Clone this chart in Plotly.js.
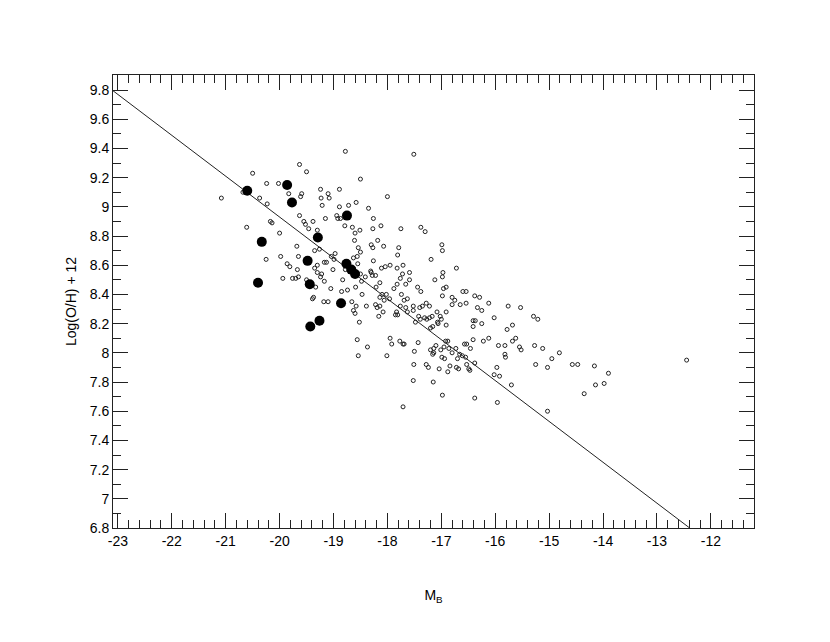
<!DOCTYPE html>
<html>
<head>
<meta charset="utf-8">
<script src="https://cdn.plot.ly/plotly-3.0.1.min.js"></script>
<style>html,body{margin:0;padding:0;background:#fff;}#chart{width:830px;height:642px;}</style>
</head>
<body>
<div id="chart"></div>
<script>
// Open circles: absolute blue magnitude M_B and oxygen abundance
const openMB = [
-18.78,-19.63,-19.50,-20.50,-18.50,-20.24,-20.02,-20.68,-19.83,-19.59,-19.61,-19.24,-19.10,-18.89,-21.08,-20.37,-19.23,-19.08,-20.23,-19.21,
-18.58,-18.89,-18.72,-18.35,-19.63,-19.15,-18.94,-18.92,-18.87,-19.55,-19.52,-19.38,-20.17,-20.14,-19.46,-18.79,-18.65,-20.61,-19.30,-18.51,
-18.60,-20.00,-18.61,-19.68,-18.54,-19.35,-19.26,-18.50,-18.97,-20.25,-19.98,-19.65,-19.04,-18.99,-18.63,-18.56,-19.30,-19.17,-19.13,-19.86,
-19.81,-19.35,-18.55,-19.67,-19.01,-18.78,-19.30,-19.22,-18.50,-18.41,-19.94,-19.76,-19.70,-19.65,-19.50,-19.24,-19.17,-18.83,-18.48,
-19.33,-19.05,-18.85,-18.74,-18.59,-18.47,-19.37,-19.39,-19.18,-19.10,-18.66,-18.58,-18.63,-18.60,-18.39,-18.52,-18.56,-18.37,-18.54,
-17.51,-18.00,-18.26,-18.27,-18.12,-17.75,-17.38,-17.30,-18.18,-18.30,-18.27,-18.07,-17.79,-16.99,-16.98,-17.81,-17.19,-18.26,-18.11,-18.04,
-17.95,-17.82,-17.71,-16.72,-18.31,-18.30,-18.22,-18.28,-17.72,-17.59,-16.97,-17.76,-17.59,-17.12,-16.98,-18.14,-17.82,-17.66,
-18.21,-18.10,-18.02,-17.88,-17.44,-17.38,-16.96,-16.91,-16.60,-16.54,-17.74,-16.98,-16.80,-16.75,-16.38,-16.29,-18.14,-18.06,-17.96,-17.69,
-17.63,-18.22,-18.14,-18.19,-17.76,-17.66,-17.52,-17.52,-17.40,-17.35,-17.28,-17.22,-16.80,-16.65,-16.54,-16.12,-15.76,-15.53,-16.33,-16.25,
-17.83,-17.85,-17.81,-18.08,-18.16,-17.63,-17.42,-17.39,-17.31,-17.27,-17.22,-17.17,-17.08,-17.02,-17.00,-16.91,-17.48,-17.07,-17.06,-16.91,
-17.20,-17.16,-16.41,-16.37,-16.41,-16.25,-16.02,-15.78,-15.68,-15.29,-15.21,-17.95,-17.92,-17.77,-17.71,-17.69,-17.43,-18.01,-17.50,-17.20,
-17.14,-17.16,-17.14,-17.10,-17.01,-16.92,-16.88,-16.95,-16.86,-16.80,-16.73,-16.99,-16.94,-16.57,-16.53,-16.46,-16.41,-16.22,-16.12,-15.94,
-15.82,-15.68,-15.62,-15.55,-15.52,-15.27,-16.66,-16.61,-16.55,-16.70,-16.38,-16.53,-16.49,-16.47,-16.72,-16.68,-16.84,-17.04,-16.88,-17.28,
-17.24,-17.51,-15.97,-16.02,-15.92,-15.82,-15.81,-15.25,-17.52,-17.15,-15.70,-16.98,-16.38,-15.96,-17.71,
-15.12,-14.95,-14.81,-15.03,-14.57,-14.47,-14.16,-13.90,-14.14,-13.98,-14.35,-15.03,-12.45
];
const openOH = [
9.38,9.29,9.24,9.23,9.19,9.16,9.16,9.10,9.09,9.09,9.07,9.12,9.09,9.12,9.06,9.06,9.06,9.06,9.02,9.01,
9.03,9.00,9.01,8.99,8.94,8.92,8.94,8.92,8.92,8.90,8.88,8.90,8.90,8.89,8.85,8.87,8.86,8.86,8.84,8.84,
8.82,8.82,8.77,8.73,8.72,8.70,8.71,8.69,8.68,8.64,8.66,8.66,8.66,8.64,8.65,8.66,8.60,8.62,8.62,8.61,
8.59,8.58,8.61,8.57,8.57,8.57,8.55,8.54,8.54,8.52,8.51,8.51,8.51,8.52,8.50,8.52,8.49,8.50,8.49,
8.45,8.44,8.42,8.43,8.45,8.40,8.38,8.37,8.35,8.35,8.35,8.32,8.29,8.27,8.32,8.21,8.09,8.04,7.98,
9.36,9.07,8.92,8.85,8.87,8.85,8.86,8.83,8.77,8.74,8.72,8.73,8.72,8.74,8.70,8.67,8.64,8.63,8.58,8.59,
8.60,8.58,8.60,8.58,8.56,8.55,8.53,8.53,8.54,8.55,8.55,8.51,8.50,8.50,8.52,8.48,8.47,8.47,
8.45,8.40,8.40,8.44,8.45,8.42,8.44,8.45,8.42,8.42,8.40,8.39,8.38,8.36,8.39,8.38,8.38,8.36,8.37,8.36,
8.37,8.33,8.32,8.31,8.32,8.31,8.32,8.29,8.31,8.32,8.34,8.32,8.33,8.33,8.34,8.34,8.32,8.31,8.31,8.29,
8.28,8.26,8.26,8.28,8.25,8.28,8.25,8.23,8.24,8.23,8.24,8.25,8.28,8.25,8.23,8.28,8.21,8.21,8.20,8.19,
8.17,8.18,8.22,8.22,8.18,8.20,8.24,8.16,8.19,8.25,8.23,8.10,8.06,8.08,8.06,8.06,8.07,7.98,8.01,8.02,
8.03,7.99,8.00,8.05,8.02,8.08,8.08,8.04,8.03,8.00,8.03,7.97,7.96,8.06,8.06,8.03,8.09,8.08,8.10,8.05,
8.05,8.08,8.10,8.04,8.02,8.05,7.99,7.98,7.97,7.96,7.93,7.92,7.89,7.88,7.90,7.89,7.91,7.89,7.87,7.92,
7.90,7.92,7.90,7.85,7.84,7.99,7.97,7.92,7.81,7.80,7.78,7.71,7.69,7.66,7.63,
8.03,7.96,8.00,7.90,7.92,7.92,7.91,7.86,7.78,7.79,7.72,7.60,7.95
];
// Filled circles
const filledMB = [-20.60,-19.86,-19.77,-18.75,-20.33,-19.29,-19.48,-18.76,-18.67,-18.60,-20.40,-19.44,-18.86,-19.26,-19.43];
const filledOH = [9.11,9.15,9.03,8.94,8.76,8.79,8.63,8.61,8.57,8.54,8.48,8.47,8.34,8.22,8.18];
// Linear relation drawn across the panel
const fitIntercept = 3.33;
const fitSlope = -0.28;
const fitMB = [-23.1, -12.4];
const fitOH = fitMB.map(m => fitIntercept + fitSlope * m);
// x tick labels (plain hyphen minus, as in the reference)
const xTickVals = [-23, -22, -21, -20, -19, -18, -17, -16, -15, -14, -13, -12];
const xTickText = ['-23', '-22', '-21', '-20', '-19', '-18', '-17', '-16', '-15', '-14', '-13', '-12'];

const axisCommon = {
  showgrid: false, zeroline: false, showline: true, linecolor: '#222', linewidth: 1,
  mirror: 'ticks', ticks: 'inside', tickcolor: '#222', tickwidth: 1, ticklen: 15,
  tickfont: {family: 'Liberation Sans, Arial, sans-serif', size: 14, color: '#000'}
};
const layout = {
  width: 830, height: 642,
  margin: {l: 113, r: 76, t: 75, b: 114},
  paper_bgcolor: '#fff', plot_bgcolor: '#fff',
  showlegend: false,
  font: {family: 'Liberation Sans, Arial, sans-serif', color: '#000'},
  xaxis: Object.assign({}, axisCommon, {
    range: [-23.09, -11.2], tickmode: 'array', tickvals: xTickVals, ticktext: xTickText,
    minor: {dtick: 0.2, tick0: -23, ticks: 'inside', ticklen: 8, tickcolor: '#222', tickwidth: 1, showgrid: false},
    title: {text: 'M<sub>B</sub>', font: {size: 14}, standoff: 42}
  }),
  yaxis: Object.assign({}, axisCommon, {
    range: [6.8, 9.903], tick0: 6.8, dtick: 0.2,
    minor: {dtick: 0.1, ticks: 'inside', ticklen: 8, tickcolor: '#222', tickwidth: 1, showgrid: false},
    title: {text: 'Log(O/H) + 12', font: {size: 14}, standoff: 9}
  })
};
const traces = [
  {x: fitMB, y: fitOH, mode: 'lines', line: {color: '#222', width: 1}, hoverinfo: 'skip'},
  {x: openMB, y: openOH, mode: 'markers', type: 'scatter',
   marker: {symbol: 'circle-open', size: 4, color: '#222', line: {width: 1, color: '#222'}}},
  {x: filledMB, y: filledOH, mode: 'markers', type: 'scatter',
   marker: {symbol: 'circle', size: 10, color: '#000'}}
];
Plotly.newPlot('chart', traces, layout, {displayModeBar: false, staticPlot: true});
</script>
</body>
</html>
